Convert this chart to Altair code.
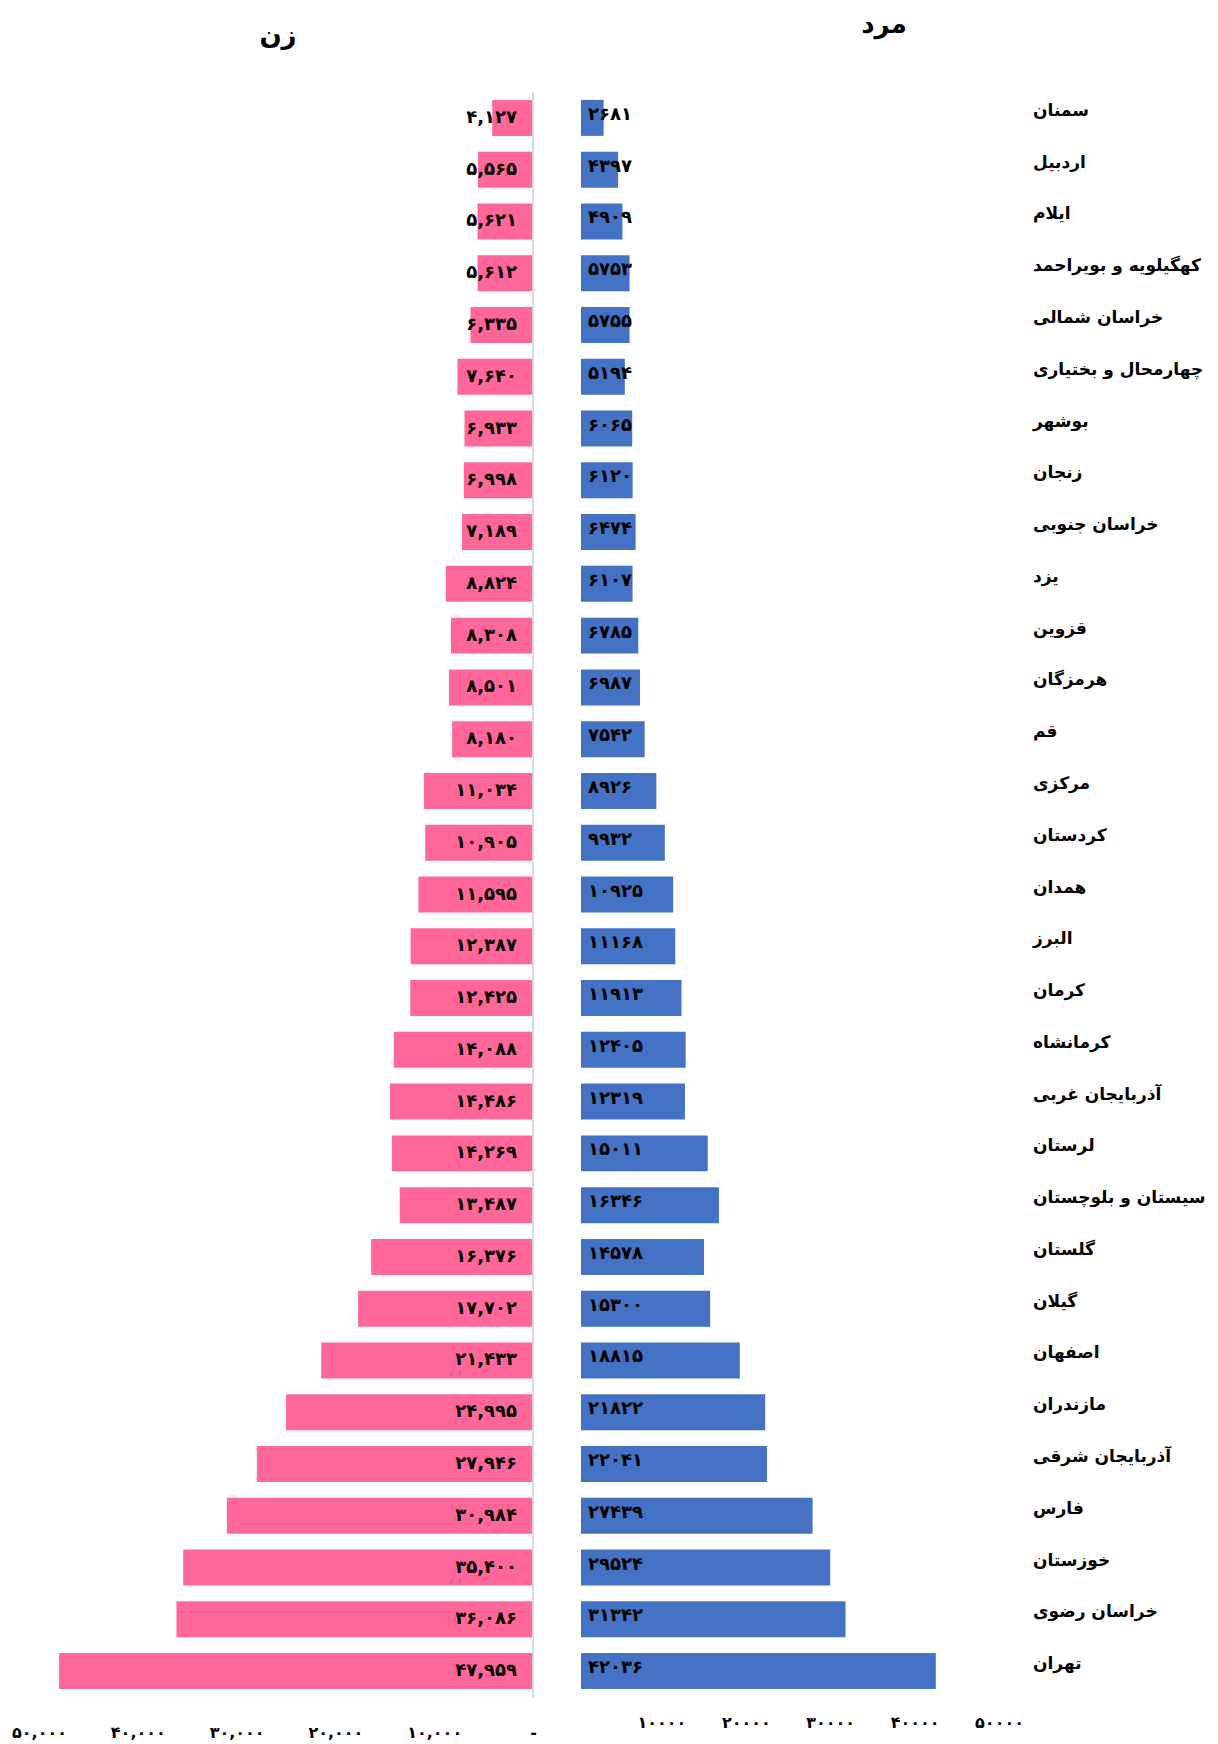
import altair as alt
import pandas as pd

provinces = ["سمنان", "اردبیل", "ایلام", "کهگیلویه و بویراحمد", "خراسان شمالی",
             "چهارمحال و بختیاری", "بوشهر", "زنجان", "خراسان جنوبی", "یزد", "قزوین",
             "هرمزگان", "قم", "مرکزی", "کردستان", "همدان", "البرز", "کرمان", "کرمانشاه",
             "آذربایجان غربی", "لرستان", "سیستان و بلوچستان", "گلستان", "گیلان", "اصفهان",
             "مازندران", "آذربایجان شرقی", "فارس", "خوزستان", "خراسان رضوی", "تهران"]
women = [4127, 5565, 5621, 5612, 6335, 7640, 6933, 6998, 7189, 8824, 8308, 8501, 8180,
         11034, 10905, 11595, 12387, 12425, 14088, 14486, 14269, 13487, 16376, 17702,
         21433, 24995, 27946, 30984, 35400, 36086, 47959]
men = [2681, 4397, 4909, 5753, 5755, 5194, 6065, 6120, 6474, 6107, 6785, 6987, 7542,
       8926, 9932, 10925, 11168, 11913, 12405, 12319, 15011, 16346, 14578, 15300,
       18815, 21822, 22041, 27439, 29524, 31342, 42036]

women_ticks = [0, 10000, 20000, 30000, 40000, 50000]
women_tick_labels = ["-", "۱۰,۰۰۰", "۲۰,۰۰۰", "۳۰,۰۰۰", "۴۰,۰۰۰", "۵۰,۰۰۰"]
men_ticks = [10000, 20000, 30000, 40000, 50000]
men_tick_labels = ["۱۰۰۰۰", "۲۰۰۰۰", "۳۰۰۰۰", "۴۰۰۰۰", "۵۰۰۰۰"]

title_women = "زن"
title_men = "مرد"

FA = str.maketrans("0123456789", "۰۱۲۳۴۵۶۷۸۹")


def fa(s):
    return s.translate(FA)


df = pd.DataFrame({
    "province": provinces,
    "women": women,
    "men": men,
    "women_label": [fa(f"{v:,}") for v in women],
    "men_label": [fa(str(v)) for v in men],
})


def label_expr(ticks, labels):
    expr = "''"
    for t, l in reversed(list(zip(ticks, labels))):
        expr = f"datum.value == {t} ? '{l}' : ({expr})"
    return expr


FONT = "DejaVu Sans"
PINK = "#FF6699"
BLUE = "#4472C4"

W, H = 1202, 1700
y_enc = alt.Y("province:N", sort=provinces, axis=None,
              scale=alt.Scale(range=[84, 1689], paddingInner=0.305, paddingOuter=0.1525))

base = alt.Chart(df)

women_scale = alt.Scale(domain=[0, 50000], range=[525, 31], nice=False)
men_scale = alt.Scale(domain=[0, 50000], range=[573, 995], nice=False)

axis_common = dict(orient="bottom", domain=False, ticks=False, tickSize=0, grid=False,
                   title=None, labelFont=FONT, labelFontSize=16, labelFontWeight="bold",
                   labelColor="black", labelBaseline="middle", labelFlush=False,
                   labelOverlap=False, labelBound=False)

women_bar = base.mark_bar(color=PINK).encode(
    x=alt.X("women:Q", scale=women_scale,
            axis=alt.Axis(values=women_ticks, labelExpr=label_expr(women_ticks, women_tick_labels),
                          labelPadding=24, **axis_common)),
    y=y_enc,
)
women_text = base.mark_text(align="right", baseline="middle", dx=-16, font=FONT,
                            fontSize=18, fontWeight="bold", color="black").encode(
    x=alt.datum(0), y=y_enc, text="women_label:N")
women_rule = base.mark_rule(color="#D9D9D9", strokeWidth=2).encode(
    x=alt.datum(0), y=alt.value(84), y2=alt.value(1690))
women_layer = alt.layer(women_bar, women_rule, women_text)

men_bar = base.mark_bar(color=BLUE).encode(
    x=alt.X("men:Q", scale=men_scale,
            axis=alt.Axis(values=men_ticks, labelExpr=label_expr(men_ticks, men_tick_labels),
                          labelPadding=14, labelOffset=-4, **axis_common)),
    y=y_enc,
)
men_text = base.mark_text(align="left", baseline="middle", dx=7, dy=-3, font=FONT,
                          fontSize=18, fontWeight="bold", color="black").encode(
    x=alt.datum(0), y=y_enc, text="men_label:N")
men_layer = alt.layer(men_bar, men_text)

prov_text = base.mark_text(align="left", baseline="middle", dy=-7, font=FONT, fontSize=17,
                           fontWeight="bold", color="black").encode(
    x=alt.value(1025), y=y_enc, text="province:N")

title_df = pd.DataFrame({"t": [title_women]})
t_women = alt.Chart(title_df).mark_text(font=FONT, fontSize=26, fontWeight="bold",
                                        color="black", align="center", baseline="middle").encode(
    x=alt.value(270), y=alt.value(28), text="t:N")
title_df2 = pd.DataFrame({"t": [title_men]})
t_men = alt.Chart(title_df2).mark_text(font=FONT, fontSize=26, fontWeight="bold",
                                       color="black", align="center", baseline="middle").encode(
    x=alt.value(876), y=alt.value(17), text="t:N")

chart = alt.layer(women_layer, men_layer, prov_text, t_women, t_men).resolve_scale(
    x="independent"
).properties(
    width=W, height=H,
    autosize=alt.AutoSizeParams(type="none"),
    padding={"left": 0, "top": 0, "right": 0, "bottom": 36},
).configure_view(stroke=None)

chart.save("out.html", embed_options={"renderer": "svg", "actions": False})
